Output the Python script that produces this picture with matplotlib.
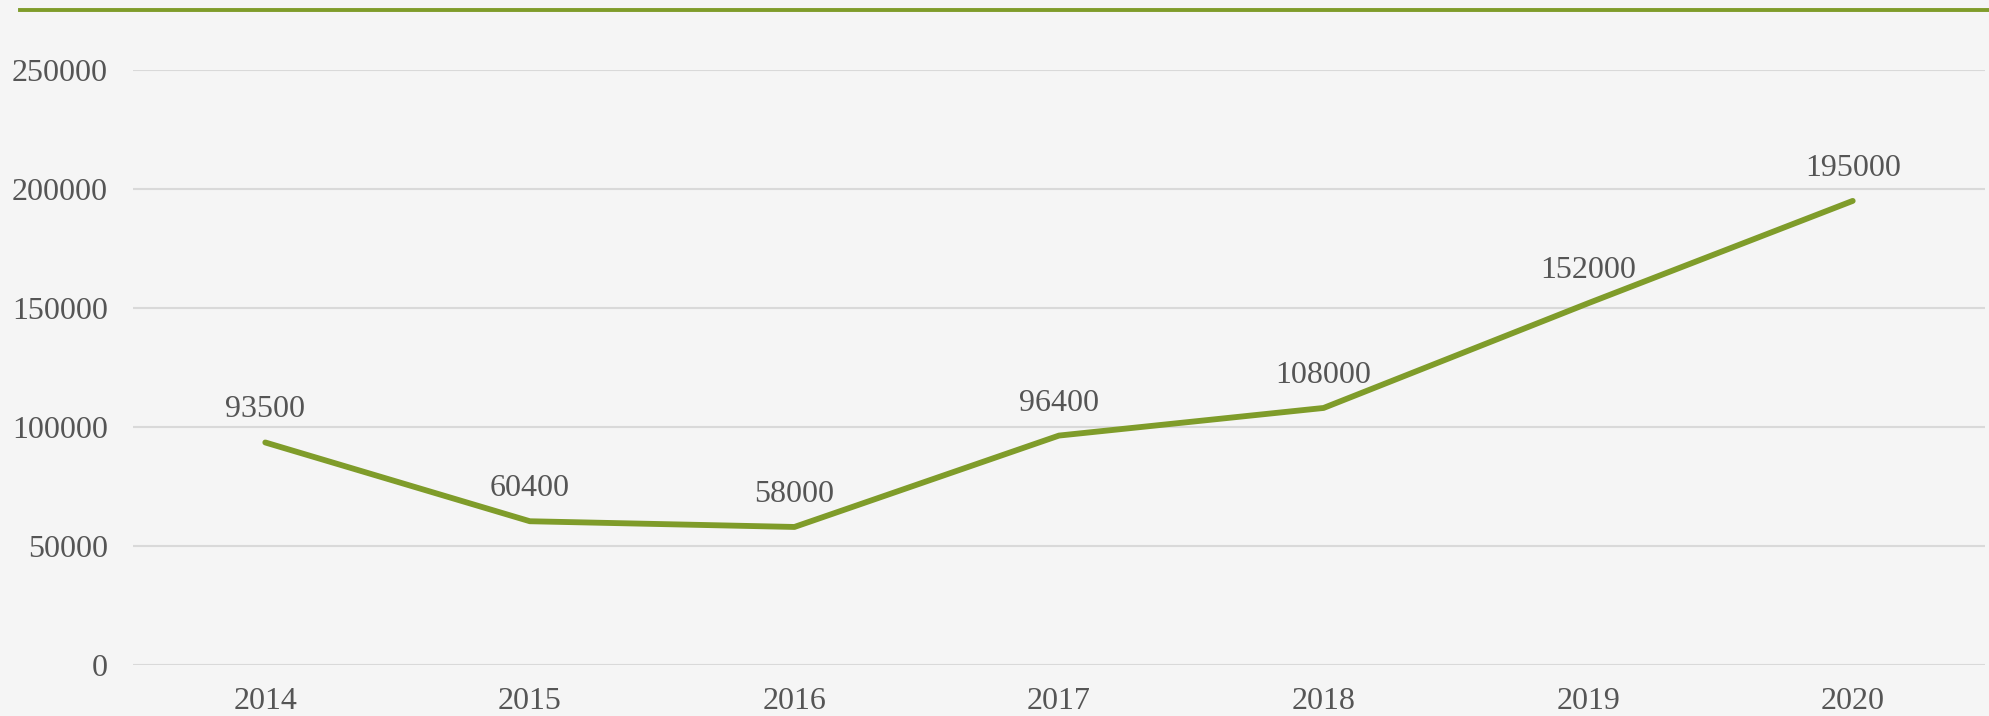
import matplotlib
matplotlib.use('Agg')
from matplotlib import pyplot as plt
from matplotlib.lines import Line2D

years = ['2014', '2015', '2016', '2017', '2018', '2019', '2020']
values = [93500, 60400, 58000, 96400, 108000, 152000, 195000]
y_ticks = [0, 50000, 100000, 150000, 200000, 250000]

GREEN = '#7f9c2a'
TEXT = '#555555'
BG = '#f5f5f5'

plt.rcParams['font.family'] = ['Liberation Serif', 'DejaVu Serif']

W, H = 1990, 716
fig = plt.figure(figsize=(W / 100, H / 100), dpi=100, facecolor=BG)
ax = fig.add_axes([133 / W, 1 - 665 / H, (1985 - 133) / W, (665 - 70) / H])
ax.set_facecolor(BG)

x = list(range(len(years)))
ax.plot(x, values, color=GREEN, lw=4.2, solid_capstyle='round', solid_joinstyle='round', zorder=3)

for xi, v in zip(x, values):
    ax.annotate(str(v), (xi, v), xytext=(0, 13), textcoords='offset points',
                ha='center', va='bottom', fontsize=23, color=TEXT)

ax.set_xlim(-0.5, len(years) - 0.5)
ax.set_ylim(0, 250000)
ax.set_xticks(x)
ax.set_xticklabels(years)
ax.set_yticks(y_ticks)
ax.set_yticklabels([str(t) for t in y_ticks])
ax.tick_params(axis='both', length=0, labelsize=23, labelcolor=TEXT)
ax.tick_params(axis='y', pad=18)
ax.tick_params(axis='x', pad=16)
ax.grid(axis='y', color='#d9d9d9', lw=1.5)
ax.set_axisbelow(True)
for s in ax.spines.values():
    s.set_visible(False)

# decorative line at top
fig.add_artist(Line2D([20 / W, 1], [1 - 10 / H, 1 - 10 / H], color=GREEN, lw=2.8,
                      transform=fig.transFigure))

fig.savefig('out.png', dpi=100, facecolor=BG)
